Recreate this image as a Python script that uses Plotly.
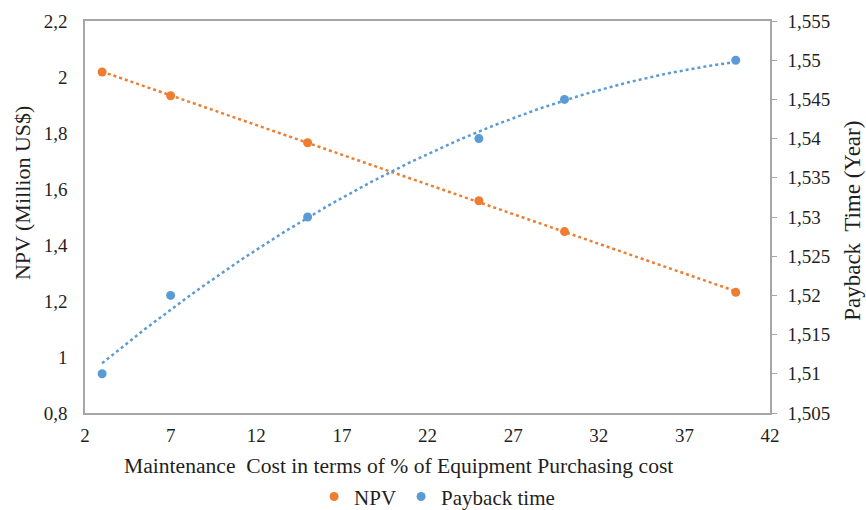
import numpy as np
import plotly.graph_objects as go

# Data
maint_cost = [3, 7, 15, 25, 30, 40]
npv = [2.018, 1.933, 1.765, 1.558, 1.448, 1.231]
payback = [1.510, 1.520, 1.530, 1.540, 1.545, 1.550]

x_ticks = [2, 7, 12, 17, 22, 27, 32, 37, 42]
left_ticks = [0.8, 1.0, 1.2, 1.4, 1.6, 1.8, 2.0, 2.2]
left_labels = ["0,8", "1", "1,2", "1,4", "1,6", "1,8", "2", "2,2"]
right_ticks = [1.505, 1.51, 1.515, 1.52, 1.525, 1.53, 1.535, 1.54, 1.545, 1.55, 1.555]
right_labels = ["1,505", "1,51", "1,515", "1,52", "1,525", "1,53", "1,535", "1,54", "1,545", "1,55", "1,555"]

x_title = "Maintenance  Cost in terms of % of Equipment Purchasing cost"
y_title = "NPV (Million US$)"
y2_title = "Payback  Time (Year)"

ORANGE = "#ED7D31"
BLUE = "#5B9BD5"
AXIS = "#A6A6A6"
TEXT = "#1f1f1f"
FONT = "Liberation Serif, Times New Roman, serif"

# Trendlines (Excel-style): linear for NPV, polynomial (order 2) for payback
xs = np.linspace(min(maint_cost), max(maint_cost), 200)
npv_fit = np.polyval(np.polyfit(maint_cost, npv, 1), xs)
pb_fit = np.polyval(np.polyfit(maint_cost, payback, 2), xs)

fig = go.Figure()
fig.add_trace(go.Scatter(x=xs, y=npv_fit, mode="lines", showlegend=False,
                         line=dict(color=ORANGE, width=2.5, dash="dot"), hoverinfo="skip"))
fig.add_trace(go.Scatter(x=xs, y=pb_fit, mode="lines", showlegend=False, yaxis="y2",
                         line=dict(color=BLUE, width=2.5, dash="dot"), hoverinfo="skip"))
fig.add_trace(go.Scatter(x=maint_cost, y=npv, mode="markers", name="NPV",
                         marker=dict(color=ORANGE, size=9)))
fig.add_trace(go.Scatter(x=maint_cost, y=payback, mode="markers", name="Payback time", yaxis="y2",
                         marker=dict(color=BLUE, size=9)))

fig.update_layout(
    width=866, height=510,
    margin=dict(l=85, r=96, t=21, b=97, autoexpand=False),
    paper_bgcolor="white", plot_bgcolor="white",
    font=dict(family=FONT, size=19, color=TEXT),
    xaxis=dict(range=[2, 42], tickvals=x_ticks, showgrid=False, zeroline=False, automargin=False,
               showline=True, linecolor=AXIS, linewidth=1.5, mirror=True, ticks="",
               ticklabelstandoff=4, tickfont=dict(size=19)),
    yaxis=dict(range=[0.8, 2.2], tickvals=left_ticks, ticktext=left_labels, showgrid=False,
               zeroline=False, showline=True, linecolor=AXIS, linewidth=1.5, ticks="",
               ticklabelstandoff=12, automargin=False, tickfont=dict(size=19)),
    yaxis2=dict(range=[1.505, 1.555], tickvals=right_ticks, ticktext=right_labels, overlaying="y",
                side="right", showgrid=False, zeroline=False, showline=True, linecolor=AXIS,
                linewidth=1.5, ticks="outside", ticklen=5, tickcolor=AXIS, automargin=False,
                ticklabelstandoff=7, tickfont=dict(size=19)),
    legend=dict(orientation="h", x=0.514, xanchor="center", y=-0.214, yanchor="middle",
                font=dict(size=21), itemwidth=30, bgcolor="rgba(0,0,0,0)"),
    annotations=[
        dict(text=x_title, xref="paper", yref="paper", x=0.457, y=-0.135,
             xanchor="center", yanchor="middle", showarrow=False, font=dict(size=21.6)),
        dict(text=y_title, xref="paper", yref="paper", x=-0.092, y=0.561, textangle=-90,
             xanchor="center", yanchor="middle", showarrow=False, font=dict(size=22)),
        dict(text=y2_title, xref="paper", yref="paper", x=1.121, y=0.490, textangle=-90,
             xanchor="center", yanchor="middle", showarrow=False, font=dict(size=23)),
    ],
)

fig.write_html(
    "out.html",
    config={"displayModeBar": False},
    post_script="document.body.style.margin='0';document.body.style.overflow='hidden';",
)
